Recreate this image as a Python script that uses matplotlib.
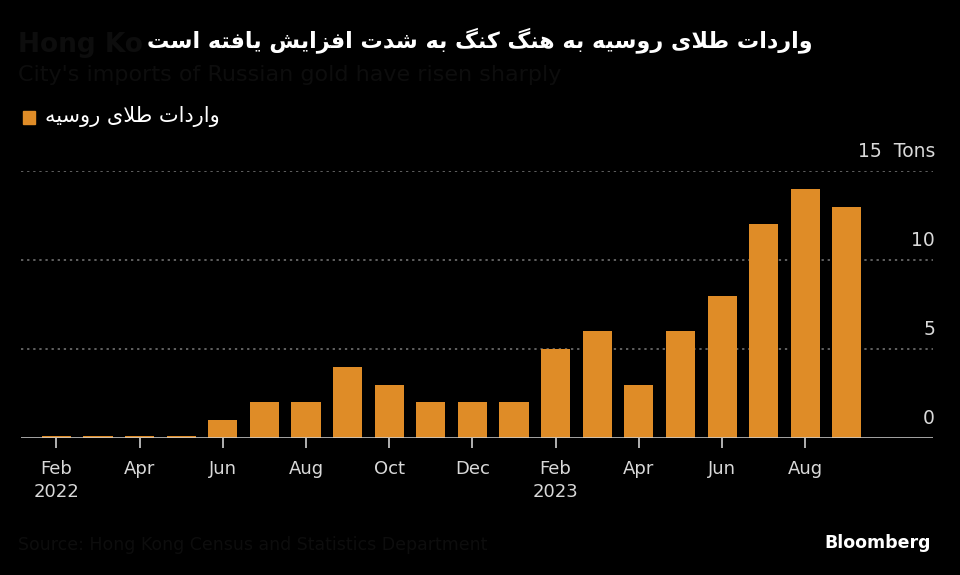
import matplotlib
matplotlib.use("Agg")
import matplotlib.pyplot as plt
import matplotlib.transforms as mtransforms
import numpy as np

# ── data ──────────────────────────────────────────────────────────────────────
months = ["Feb 2022", "Mar 2022", "Apr 2022", "May 2022", "Jun 2022", "Jul 2022",
          "Aug 2022", "Sep 2022", "Oct 2022", "Nov 2022", "Dec 2022", "Jan 2023",
          "Feb 2023", "Mar 2023", "Apr 2023", "May 2023", "Jun 2023", "Jul 2023",
          "Aug 2023", "Sep 2023"]
imports_tons = [0.12, 0.12, 0.1, 0.12, 1.0, 2.0, 2.0, 4.0, 3.0, 2.0, 2.0, 2.0,
                5.0, 6.0, 3.0, 6.0, 8.0, 12.0, 14.0, 13.0]
tick_labels = ["Feb\n2022", "Apr", "Jun", "Aug", "Oct", "Dec",
               "Feb\n2023", "Apr", "Jun", "Aug"]
y_ticks = [0, 5, 10, 15]

title_fa = "واردات طلای روسیه به هنگ کنگ به شدت افزایش یافته است"
legend_fa = "واردات طلای روسیه"

BG = "#000000"
ORANGE = "#df8c27"
GHOST = "#0d0d0d"

# ── minimal Persian shaping (matplotlib has no complex text layout) ──────────
FORMS = {
    "ا": ("\uFE8D", "\uFE8E", None, None),
    "ب": ("\uFE8F", "\uFE90", "\uFE91", "\uFE92"),
    "ت": ("\uFE95", "\uFE96", "\uFE97", "\uFE98"),
    "د": ("\uFEA9", "\uFEAA", None, None),
    "ر": ("\uFEAD", "\uFEAE", None, None),
    "ز": ("\uFEAF", "\uFEB0", None, None),
    "س": ("\uFEB1", "\uFEB2", "\uFEB3", "\uFEB4"),
    "ش": ("\uFEB5", "\uFEB6", "\uFEB7", "\uFEB8"),
    "ط": ("\uFEC1", "\uFEC2", "\uFEC3", "\uFEC4"),
    "ف": ("\uFED1", "\uFED2", "\uFED3", "\uFED4"),
    "ل": ("\uFEDD", "\uFEDE", "\uFEDF", "\uFEE0"),
    "ن": ("\uFEE5", "\uFEE6", "\uFEE7", "\uFEE8"),
    "ه": ("\uFEE9", "\uFEEA", "\uFEEB", "\uFEEC"),
    "و": ("\uFEED", "\uFEEE", None, None),
    "ی": ("\uFBFC", "\uFBFD", "\uFBFE", "\uFBFF"),
    "ک": ("\uFB8E", "\uFB8F", "\uFB90", "\uFB91"),
    "گ": ("\uFB92", "\uFB93", "\uFB94", "\uFB95"),
}
LAM_ALEF = ("\uFEFB", "\uFEFC")


def shape_word(word):
    chars, i = [], 0
    while i < len(word):
        if word[i] == "ل" and i + 1 < len(word) and word[i + 1] == "ا":
            chars.append("LA")
            i += 2
        else:
            chars.append(word[i])
            i += 1
    out = []
    for j, c in enumerate(chars):
        prev = chars[j - 1] if j > 0 else None
        nxt = chars[j + 1] if j + 1 < len(chars) else None
        join_prev = prev in FORMS and FORMS[prev][2] is not None
        if c == "LA":
            out.append(LAM_ALEF[1 if join_prev else 0])
            continue
        f = FORMS.get(c)
        if f is None:
            out.append(c)
            continue
        join_next = f[2] is not None and (nxt == "LA" or nxt in FORMS)
        if join_prev and join_next:
            out.append(f[3])
        elif join_prev:
            out.append(f[1])
        elif join_next:
            out.append(f[2])
        else:
            out.append(f[0])
    return "".join(out)


def rtl(text):
    return " ".join(shape_word(w) for w in text.split(" "))[::-1]


# ── figure ────────────────────────────────────────────────────────────────────
plt.rcParams["font.family"] = ["DejaVu Sans"]
fig = plt.figure(figsize=(9.6, 5.75), dpi=100, facecolor=BG)
ax = fig.add_axes([0.0219, 0.2383, 0.9500, 0.4643], facecolor=BG)

x = np.arange(len(months))
ax.bar(x, imports_tons, width=0.7, color=ORANGE, zorder=2)

ax.set_xlim(-0.85, 21.07)
ax.set_ylim(0, 15)

for v in y_ticks[1:]:
    ax.axhline(v, color="#7a7a7a", lw=1.1, linestyle=(0, (1.5, 2.5)), zorder=1)
ax.axhline(0, color="#cfcfcf", lw=1.3, alpha=0.85, zorder=3)

for s in ax.spines.values():
    s.set_visible(False)
ax.set_yticks([])
ax.set_xticks(x[::2])
ax.set_xticklabels(tick_labels, fontsize=13, color="#d9d9d9", linespacing=1.35)
ax.tick_params(axis="x", length=7, width=1.2, color="#cfcfcf", pad=9)

trans = mtransforms.blended_transform_factory(ax.transAxes, ax.transData)
for v in y_ticks:
    lab = f"{v}  Tons" if v == 15 else f"{v}"
    ax.annotate(lab, xy=(1, v), xycoords=trans, xytext=(1.5, 14),
                textcoords="offset points", ha="right", va="center",
                fontsize=13.5, color="#d9d9d9")

# faint leftovers of the original English headline (mostly hidden by the title)
fig.text(0.019, 0.922, "Hong Ko", fontsize=19,
         fontweight="bold", color=GHOST, va="center")
fig.text(0.019, 0.870, "City's imports of Russian gold have risen sharply",
         fontsize=16, color=GHOST, va="center")
fig.text(0.019, 0.052, "Source: Hong Kong Census and Statistics Department",
         fontsize=12.5, color=GHOST, va="center")

fig.text(0.5, 0.930, rtl(title_fa), fontsize=16, fontweight="bold", color="white",
         ha="center", va="center")

# legend
fig.patches.append(plt.Rectangle((0.024, 0.784), 0.0125, 0.0235, color=ORANGE,
                                 transform=fig.transFigure, figure=fig))
fig.text(0.047, 0.797, rtl(legend_fa), fontsize=15, color="white",
         ha="left", va="center")

fig.text(0.970, 0.056, "Bloomberg", fontsize=12.5, fontweight="bold",
         color="white", ha="right", va="center")

fig.savefig("out.png", dpi=100, facecolor=BG)
